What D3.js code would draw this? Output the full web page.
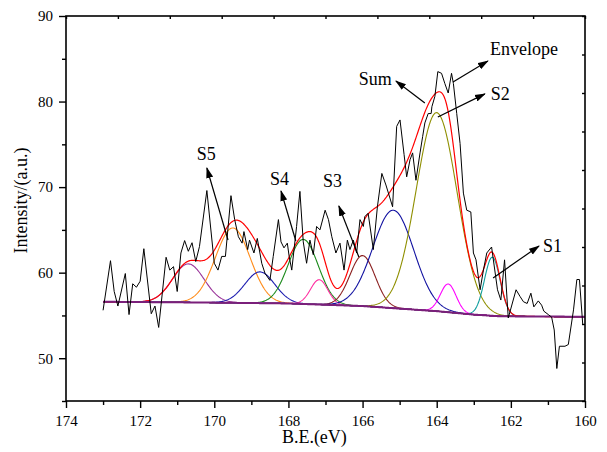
<!DOCTYPE html>
<meta charset="utf-8">
<script src="https://d3js.org/d3.v7.min.js"></script>
<style>
  body { margin: 0; background: #fff; }
  text { font-family: "Liberation Serif", "Times New Roman", serif; fill: #000; }
</style>
<svg id="chart" width="607" height="452"></svg>
<script>

// raw spectrum (binding energy, intensity)
var rawEV = [173.0, 172.8, 172.7, 172.6, 172.4, 172.3, 172.2, 172.1, 172.0, 171.9,
  171.7, 171.6, 171.5, 171.3, 171.2, 171.1, 171.0, 170.9, 170.8, 170.7,
  170.6, 170.5, 170.4, 170.2, 170.0, 169.9, 169.8, 169.7, 169.55, 169.45,
  169.35, 169.25, 169.2, 169.1, 169.05, 168.93, 168.84, 168.72, 168.63, 168.5,
  168.41, 168.27, 168.2, 168.12, 168.03, 167.98, 167.91, 167.78, 167.69, 167.6,
  167.51, 167.42, 167.33, 167.24, 167.15, 167.01, 166.92, 166.83, 166.72, 166.61,
  166.5, 166.41, 166.34, 166.25, 166.16, 166.07, 165.98, 165.94, 165.85, 165.71,
  165.6, 165.48, 165.37, 165.19, 165.08, 164.99, 164.88, 164.81, 164.72, 164.65,
  164.56, 164.45, 164.38, 164.32, 164.23, 164.15, 164.13, 164.05, 163.97, 163.87,
  163.78, 163.69, 163.6, 163.55, 163.46, 163.37, 163.28, 163.19, 163.08, 163.01,
  162.94, 162.83, 162.74, 162.65, 162.52, 162.36, 162.27, 162.17, 162.07, 161.86,
  161.75, 161.66, 161.56, 161.46, 161.38, 161.26, 161.17, 161.11, 160.99, 160.9,
  160.83, 160.76, 160.69, 160.54, 160.45, 160.31, 160.22, 160.15, 160.06];
var rawCounts = [55.6, 61.4, 57.8, 56.1, 59.9, 55.1, 58.7, 58.3, 59.0, 62.8,
  55.2, 56.1, 53.6, 61.8, 60.3, 60.7, 57.8, 62.3, 63.75, 62.5,
  63.5, 61.3, 63.05, 69.6, 61.1, 60.3, 61.9, 61.9, 69.0, 66.2,
  64.2, 63.45, 64.8, 62.7, 63.8, 62.3, 64.0, 61.1, 59.9, 59.1,
  61.9, 66.2, 63.6, 62.9, 63.45, 61.9, 60.3, 65.4, 69.5, 63.6,
  61.1, 63.8, 62.1, 65.4, 65.0, 67.3, 66.2, 64.2, 62.3, 63.45,
  60.3, 63.8, 62.7, 63.8, 62.3, 66.2, 65.4, 66.55, 66.95, 62.7,
  67.7, 71.6, 70.25, 67.7, 77.1, 77.85, 73.8, 71.2, 73.2, 74.0,
  70.8, 74.0, 75.9, 77.5, 78.6, 78.6, 79.4, 80.6, 83.5, 83.3,
  82.1, 81.0, 83.3, 82.1, 78.6, 75.1, 69.3, 67.3, 67.1, 62.3,
  61.5, 58.0, 60.3, 62.3, 63.0, 58.0, 56.8, 61.5, 54.7, 58.0,
  57.2, 56.6, 56.4, 57.6, 56.0, 56.7, 56.2, 55.5, 55.1, 54.8,
  53.3, 48.8, 51.4, 51.4, 51.6, 55.65, 59.2, 59.2, 53.9];

// background
var bgEV = [173, 170, 168, 166, 164, 163, 162.3, 160];
var bgCounts = [56.6, 56.5, 56.4, 56.1, 55.5, 55.1, 54.9, 54.85];

// fitted peaks: centre (eV), height above background, FWHM (eV)
var peakCenters = [170.7, 169.5, 168.77, 167.6, 167.17, 166.0, 165.17, 164.0, 163.69, 162.5];
var peakHeights = [4.5, 8.75, 3.65, 7.55, 2.9, 5.9, 11.45, 23.2, 3.3, 6.85];
var peakWidths  = [1.0, 1.1, 0.95, 0.95, 0.55, 0.8, 1.3, 1.3, 0.5, 0.5];
var peakColors  = ["#993399", "#ff8c1a", "#1c1cb0", "#1a8a1a", "#ff2da0",
  "#8b2020", "#1010a0", "#8f8f00", "#ff00ff", "#0e9e9e"];

// annotations
var labelText = ["Envelope", "S2", "Sum", "S5", "S4", "S3", "S1"];
var labelEV = [162.56, 162.54, 166.1, 170.47, 168.5, 167.07, 161.13];
var labelVal = [85.45, 80.2, 81.9, 73.2, 70.25, 70.0, 62.4];
var arrowFrom = [[163.56, 82.29], [163.97, 78.2], [164.32, 79.83], [169.63, 63.82],
  [167.8, 63.7], [166.1, 61.83], [162.48, 59.38]];
var arrowTo = [[162.62, 84.74], [162.70, 80.9], [165.10, 82.4], [170.2, 72.23],
  [168.2, 69.55], [166.64, 67.8], [161.24, 63.12]];

var svg = d3.select("#chart"),
    margin = {top: 16, right: 22, bottom: 51, left: 66},
    width = +svg.attr("width") - margin.left - margin.right,
    height = +svg.attr("height") - margin.top - margin.bottom;

var g = svg.append("g").attr("transform", "translate(" + margin.left + "," + margin.top + ")");

var x = d3.scaleLinear().domain([174, 160]).range([0, width]);
var y = d3.scaleLinear().domain([45, 90]).range([height, 0]);

var bg = d3.scaleLinear().domain(bgEV).range(bgCounts);

// model curves on a fine grid
var grid = d3.range(173, 159.999, -0.02);
function gauss(e, i) {
  var d = e - peakCenters[i];
  return peakHeights[i] * Math.exp(-4 * Math.LN2 * d * d / (peakWidths[i] * peakWidths[i]));
}

var line = d3.line().x(function(d) { return x(d[0]); }).y(function(d) { return y(d[1]); });

svg.append("defs").append("marker")
    .attr("id", "head")
    .attr("markerUnits", "userSpaceOnUse")
    .attr("markerWidth", 11).attr("markerHeight", 8)
    .attr("refX", 10).attr("refY", 4)
    .attr("orient", "auto")
  .append("path")
    .attr("d", "M0,0.5L11,4L0,7.5z")
    .attr("fill", "#000");

// components
peakCenters.forEach(function(c, i) {
  g.append("path")
    .attr("d", line(grid.map(function(e) { return [e, bg(e) + gauss(e, i)]; })))
    .attr("fill", "none")
    .attr("stroke", peakColors[i])
    .attr("stroke-width", 1.1);
});

// sum of components
g.append("path")
  .attr("d", line(grid.map(function(e) {
    return [e, bg(e) + d3.sum(peakCenters, function(c, i) { return gauss(e, i); })];
  })))
  .attr("fill", "none")
  .attr("stroke", "#ff0000")
  .attr("stroke-width", 1.2);

// background line
g.append("path")
  .attr("d", line(grid.map(function(e) { return [e, bg(e)]; })))
  .attr("fill", "none")
  .attr("stroke", "#7a1f7a")
  .attr("stroke-width", 2);

// raw data
g.append("path")
  .attr("d", line(rawEV.map(function(e, i) { return [e, rawCounts[i]]; })))
  .attr("fill", "none")
  .attr("stroke", "#000")
  .attr("stroke-width", 1);

// axes
g.append("g").attr("transform", "translate(0," + height + ")")
  .call(d3.axisBottom(x).tickValues(d3.range(160, 175, 2)).tickSize(7).tickPadding(7).tickSizeOuter(0));
g.append("g").attr("transform", "translate(0," + height + ")")
  .call(d3.axisBottom(x).tickValues(d3.range(161, 175, 2)).tickSize(4).tickFormat("").tickSizeOuter(0));
g.append("g")
  .call(d3.axisLeft(y).tickValues(d3.range(50, 91, 10)).tickSize(7).tickPadding(6).tickSizeOuter(0));
g.append("g")
  .call(d3.axisLeft(y).tickValues(d3.range(45, 90, 10)).tickSize(4).tickFormat("").tickSizeOuter(0));

// top / right frame ticks (inward, unlabeled)
var tx = d3.scaleLinear().domain([0, 10]).range([0, width]);
var ty = d3.scaleLinear().domain([0, 10]).range([height, 0]);
g.append("g").call(d3.axisBottom(tx).ticks(10).tickSize(3).tickFormat("").tickSizeOuter(0));
g.append("g").attr("transform", "translate(" + width + ",0)")
  .call(d3.axisLeft(ty).ticks(10).tickSize(3).tickFormat("").tickSizeOuter(0));

g.selectAll(".domain").remove();
g.selectAll(".tick line").attr("stroke", "#000").attr("stroke-width", 1.4);
g.selectAll(".tick text").attr("font-size", 15).attr("font-family", "Liberation Serif");

g.append("rect")
  .attr("width", width).attr("height", height)
  .attr("fill", "none").attr("stroke", "#000").attr("stroke-width", 1.6);

// axis titles
svg.append("text")
  .attr("x", margin.left + x(167.3)).attr("y", 443)
  .attr("text-anchor", "middle").attr("font-size", 18)
  .text("B.E.(eV)");
svg.append("text")
  .attr("transform", "translate(27," + (margin.top + y(67.5) - 8) + ") rotate(-90)")
  .attr("text-anchor", "middle").attr("font-size", 18)
  .text("Intensity/(a.u.)");

// labels and arrows
labelText.forEach(function(t, i) {
  g.append("text")
    .attr("x", x(labelEV[i])).attr("y", y(labelVal[i]))
    .attr("font-size", 18)
    .text(t);
  g.append("line")
    .attr("x1", x(arrowFrom[i][0])).attr("y1", y(arrowFrom[i][1]))
    .attr("x2", x(arrowTo[i][0])).attr("y2", y(arrowTo[i][1]))
    .attr("stroke", "#000").attr("stroke-width", 1.2)
    .attr("marker-end", "url(#head)");
});

</script>
